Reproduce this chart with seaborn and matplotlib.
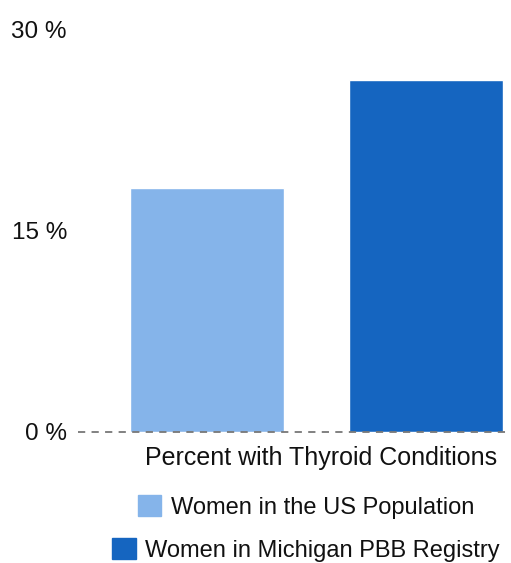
import pandas as pd
import matplotlib
matplotlib.use('Agg')
import matplotlib.pyplot as plt
import seaborn as sns
from matplotlib.patches import Patch

groups = ['Women in the US Population', 'Women in Michigan PBB Registry']
values = [18.2, 26.2]
colors = ['#85B4EA', '#1565C0']
yticks = [0, 15, 30]
ytick_labels = ['0 %', '15 %', '30 %']

df = pd.DataFrame({'grupo': groups, 'valor': values})

sns.set_theme(style='white')
plt.rcParams['font.family'] = ['Liberation Sans', 'DejaVu Sans']

W, H = 511, 563
fig = plt.figure(figsize=(W / 100, H / 100), dpi=100)
ax = fig.add_axes([78 / W, (H - 432) / H, (511 - 78) / W, (432 - 29) / H])

sns.barplot(data=df, x='grupo', y='valor', hue='grupo', palette=colors,
            width=0.70, saturation=1, legend=False, ax=ax, zorder=2)

ax.axhline(0, color='#777777', lw=1.3, ls=(0, (4, 3.5)), zorder=3, clip_on=False)
ax.set_xlim(-0.589, 1.388)
ax.set_ylim(0, 30)
ax.set_yticks(yticks)
ax.set_yticklabels(ytick_labels, fontsize=17.5, color='#111111')
ax.tick_params(axis='y', length=0, pad=8)
ax.set_xticks([])
ax.set_xlabel('')
ax.set_ylabel('')
sns.despine(ax=ax, left=True, bottom=True, top=True, right=True)

fig.text(497 / W, 1 - 458 / H, 'Percent with Thyroid Conditions',
         ha='right', va='center', fontsize=18, color='#111111')

# each legend row centered on its own
for i, (g, c) in enumerate(zip(groups, colors)):
    yc = [507, 550][i]
    leg = fig.legend(handles=[Patch(facecolor=c, edgecolor=c, label=g)],
                     loc='center', bbox_to_anchor=(306 / W, 1 - yc / H),
                     frameon=False, fontsize=17, handlelength=1.0,
                     handleheight=1.0, handletextpad=0.4, borderpad=0)
    for t in leg.get_texts():
        t.set_color('#111111')

fig.savefig('out.png', dpi=100, facecolor='white')
